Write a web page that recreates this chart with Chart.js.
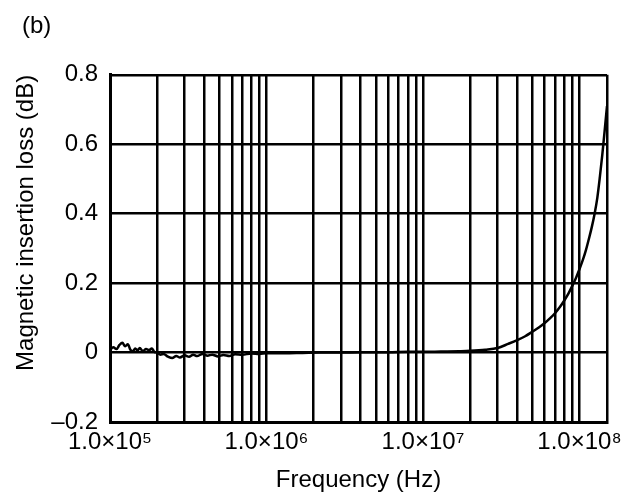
<!DOCTYPE html>
<html>
<head>
<meta charset="utf-8">
<script src="https://cdn.jsdelivr.net/npm/chart.js@4.4.1/dist/chart.umd.min.js"></script>
<style>
  html, body { margin: 0; padding: 0; background: #fff; }
  #wrap { width: 621px; height: 504px; }
</style>
</head>
<body>
<div id="wrap"><canvas id="lossChart"></canvas></div>
<script>
const freqHz = [
  1.00e5, 1.05e5, 1.10e5, 1.15e5, 1.20e5, 1.25e5, 1.30e5, 1.35e5, 1.40e5, 1.45e5,
  1.50e5, 1.55e5, 1.62e5, 1.70e5, 1.78e5, 1.85e5, 1.92e5, 2.00e5, 2.10e5, 2.20e5,
  2.35e5, 2.50e5, 2.65e5, 2.80e5, 3.00e5, 3.20e5, 3.40e5, 3.60e5, 3.90e5, 4.20e5,
  4.50e5, 4.90e5, 5.30e5, 5.80e5, 6.30e5, 7.00e5, 8.00e5, 9.00e5, 1.0e6, 1.3e6,
  1.7e6, 2.2e6, 3.0e6, 4.0e6, 6.0e6, 8.0e6, 1.0e7, 1.3e7, 1.7e7, 2.0e7,
  2.5e7, 3.0e7, 3.5e7, 4.0e7, 4.5e7, 5.0e7, 5.5e7, 6.0e7, 6.5e7, 7.0e7,
  7.5e7, 8.0e7, 8.5e7, 9.0e7, 9.5e7, 1.0e8, 1.05e8, 1.1e8, 1.15e8, 1.2e8,
  1.25e8, 1.3e8, 1.35e8, 1.4e8, 1.45e8, 1.5e8
];
const lossDb = [
  0.008, 0.015, 0.010, 0.022, 0.028, 0.018, 0.024, 0.008, 0.004, 0.012,
  0.006, 0.013, 0.004, 0.010, 0.007, 0.012, 0.002, 0.000, -0.006, -0.004,
  -0.012, -0.016, -0.010, -0.014, -0.008, -0.012, -0.006, -0.010, -0.004, -0.009,
  -0.006, -0.011, -0.007, -0.010, -0.005, -0.006, -0.003, -0.004, -0.002, -0.002,
  -0.001, 0.000, 0.000, 0.001, 0.001, 0.002, 0.002, 0.003, 0.004, 0.005,
  0.008, 0.013, 0.025, 0.036, 0.047, 0.060, 0.072, 0.085, 0.099, 0.114,
  0.131, 0.150, 0.170, 0.192, 0.215, 0.240, 0.266, 0.295, 0.328, 0.362,
  0.400, 0.445, 0.505, 0.570, 0.640, 0.710
];

// axes
const xGridTicks = [
  1e5, 2e5, 3e5, 4e5, 5e5, 6e5, 7e5, 8e5, 9e5,
  1e6, 2e6, 3e6, 4e6, 5e6, 6e6, 7e6, 8e6, 9e6,
  1e7, 2e7, 3e7, 4e7, 5e7, 6e7, 7e7, 8e7, 9e7,
  1e8, 1.5e8
];
const xLabelValues = [1e5, 1e6, 1e7, 1e8];
const xLabelTexts = ['1.0\u00d710\u2075', '1.0\u00d710\u2076', '1.0\u00d710\u2077', '1.0\u00d710\u2078'];
const yTicks = [-0.2, 0, 0.2, 0.4, 0.6, 0.8];
const yTickLabels = ['\u20130.2', '0', '0.2', '0.4', '0.6', '0.8'];

const fontFamily = '"Liberation Sans", Arial, Helvetica, sans-serif';

document.addEventListener('DOMContentLoaded', () => {
  const ctx = document.getElementById('lossChart').getContext('2d');
  const points = freqHz.map((f, i) => ({ x: f, y: lossDb[i] }));

  new Chart(ctx, {
    type: 'line',
    data: {
      datasets: [{
        data: points,
        borderColor: '#000',
        borderWidth: 2.5,
        pointRadius: 0,
        fill: false,
        cubicInterpolationMode: 'monotone'
      }]
    },
    options: {
      responsive: true,
      maintainAspectRatio: false,
      animation: false,
      layout: { padding: { left: 22, right: 14, top: 0, bottom: 0 } },
      plugins: {
        legend: { display: false },
        tooltip: { enabled: false },
        title: {
          display: true,
          text: '(b)',
          align: 'start',
          color: '#000',
          font: { family: fontFamily, size: 24, weight: 'normal' },
          padding: { top: 12, bottom: 34 }
        }
      },
      scales: {
        x: {
          type: 'logarithmic',
          min: 1e5,
          max: 1.5e8,
          afterBuildTicks: (scale) => {
            scale.ticks = xGridTicks.map(v => ({ value: v }));
          },
          afterFit: (scale) => { scale.height = 82; },
          grid: { color: '#000', lineWidth: 2.5, drawTicks: false },
          border: { color: '#000', width: 3 },
          ticks: {
            autoSkip: false,
            maxRotation: 0,
            padding: 6,
            color: '#000',
            font: { family: fontFamily, size: 24 },
            callback: (value) => {
              const k = xLabelValues.indexOf(value);
              return k >= 0 ? xLabelTexts[k] : '';
            }
          },
          title: {
            display: true,
            text: 'Frequency (Hz)',
            color: '#000',
            font: { family: fontFamily, size: 24 },
            padding: { top: 0, bottom: 9 }
          }
        },
        y: {
          min: -0.2,
          max: 0.8,
          afterBuildTicks: (scale) => {
            scale.ticks = yTicks.map(v => ({ value: v }));
          },
          afterFit: (scale) => { scale.width = 88; },
          grid: { color: '#000', lineWidth: 2.5, drawTicks: false },
          border: { color: '#000', width: 3 },
          ticks: {
            padding: 12,
            color: '#000',
            font: { family: fontFamily, size: 24 },
            callback: (value, index) => yTickLabels[index]
          },
          title: {
            display: true,
            text: 'Magnetic insertion loss (dB)',
            align: 'end',
            color: '#000',
            font: { family: fontFamily, size: 24 },
            padding: { top: -10, bottom: 0 }
          }
        }
      }
    }
  });
});
</script>
</body>
</html>
